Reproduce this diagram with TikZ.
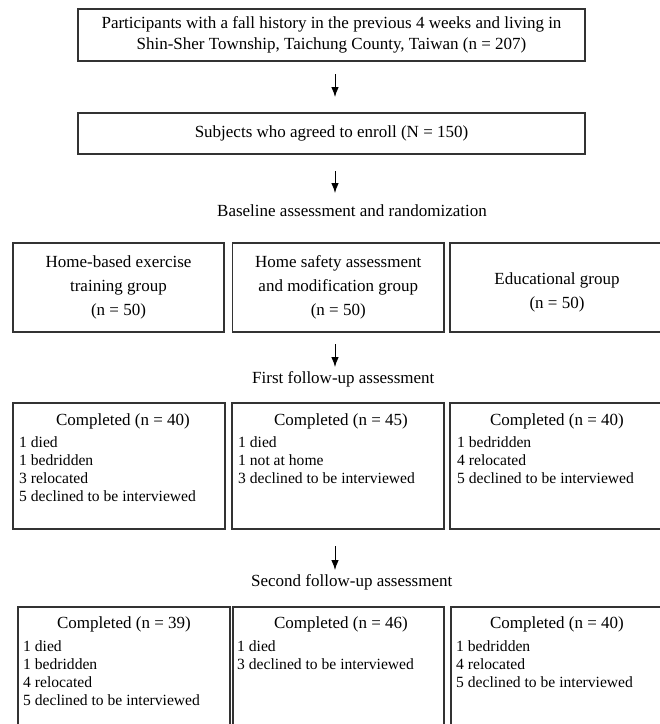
\documentclass[tikz,border=0pt]{standalone}
\usepackage{fontspec}
\setmainfont{Liberation Serif}
\usetikzlibrary{arrows.meta}

\begin{document}
\begin{tikzpicture}[x=1pt, y=-1pt,
    box/.style={draw=black!80, line width=1.2pt, inner sep=0pt},
    boxtext/.style={font=\fontsize{17}{21}\selectfont, align=center},
    grouptext/.style={font=\fontsize{17}{24}\selectfont, align=center},
    steplabel/.style={font=\fontsize{17}{20}\selectfont, anchor=west, inner sep=0pt},
    title/.style={font=\fontsize{17}{20}\selectfont, inner sep=0pt},
    items/.style={font=\fontsize{15.6}{18}\selectfont, align=left, anchor=north west, inner sep=0pt},
    flow/.style={-{Latex[length=10pt,width=7.5pt]}, line width=0.9pt}]
    \useasboundingbox (0,0) rectangle (660,724);
    \clip (0,0) rectangle (660,724);

    % recruitment
    \node[box, boxtext, minimum width=507pt, minimum height=52pt] (source) at (331.5,35) {Participants with a fall history in the previous 4 weeks and living in\\Shin-Sher Township, Taichung County, Taiwan (n = 207)};
    \node[box, boxtext, minimum width=507pt, minimum height=41pt] (enrol) at (331.5,133.5) {Subjects who agreed to enroll (N = 150)};

    \coordinate (a1) at (335,74);  \coordinate (b1) at (335,97);
    \coordinate (a2) at (335,171); \coordinate (b2) at (335,193);
    \draw[flow] (a1) -- (b1);
    \draw[flow] (a2) -- (b2);
    \node[steplabel] (baseline) at (217,211) {Baseline assessment and randomization};

    % groups
    \node[box, grouptext, minimum width=211pt, minimum height=89pt] (exercise) at (118.5,287.5) {Home-based exercise\\training group\\(n = 50)};
    \node[box, grouptext, minimum width=211.5pt, minimum height=89pt] (safety) at (338.25,287.5) {Home safety assessment\\and modification group\\(n = 50)};
    \node[box, minimum width=220pt, minimum height=89pt] (edu) at (560,287.5) {};
    \node[grouptext] (edutext) at (557,292) {Educational group\\(n = 50)};

    \coordinate (a3) at (335,344); \coordinate (b3) at (335,367);
    \draw[flow] (a3) -- (b3);
    \node[steplabel] (first) at (252,379) {First follow-up assessment};

    % first follow-up
    \node[box, minimum width=212pt, minimum height=126pt] (firstA) at (119,466) {};
    \node[box, minimum width=212pt, minimum height=126pt] (firstB) at (338,466) {};
    \node[box, minimum width=220pt, minimum height=126pt] (firstC) at (560,466) {};
    \node[title] (firstAt) at (123,421) {Completed (n = 40)};
    \node[title] (firstBt) at (341,421) {Completed (n = 45)};
    \node[title] (firstCt) at (557,421) {Completed (n = 40)};
    \node[items] (firstAl) at (19,436) {1 died\\1 bedridden\\3 relocated\\5 declined to be interviewed};
    \node[items] (firstBl) at (238,436) {1 died\\1 not at home\\3 declined to be interviewed};
    \node[items] (firstCl) at (457,436) {1 bedridden\\4 relocated\\5 declined to be interviewed};

    \coordinate (a4) at (335,546); \coordinate (b4) at (335,570);
    \draw[flow] (a4) -- (b4);
    \node[steplabel] (second) at (251,582) {Second follow-up assessment};

    % second follow-up
    \node[box, minimum width=212pt, minimum height=133pt] (secondA) at (124,673.5) {};
    \node[box, minimum width=211pt, minimum height=133pt] (secondB) at (338.5,673.5) {};
    \node[box, minimum width=219pt, minimum height=133pt] (secondC) at (560.5,673.5) {};
    \node[title] (secondAt) at (124,624) {Completed (n = 39)};
    \node[title] (secondBt) at (341,624) {Completed (n = 46)};
    \node[title] (secondCt) at (557,624) {Completed (n = 40)};
    \node[items] (secondAl) at (23,640) {1 died\\1 bedridden\\4 relocated\\5 declined to be interviewed};
    \node[items] (secondBl) at (237,640) {1 died\\3 declined to be interviewed};
    \node[items] (secondCl) at (456,640) {1 bedridden\\4 relocated\\5 declined to be interviewed};
\end{tikzpicture}
\end{document}
